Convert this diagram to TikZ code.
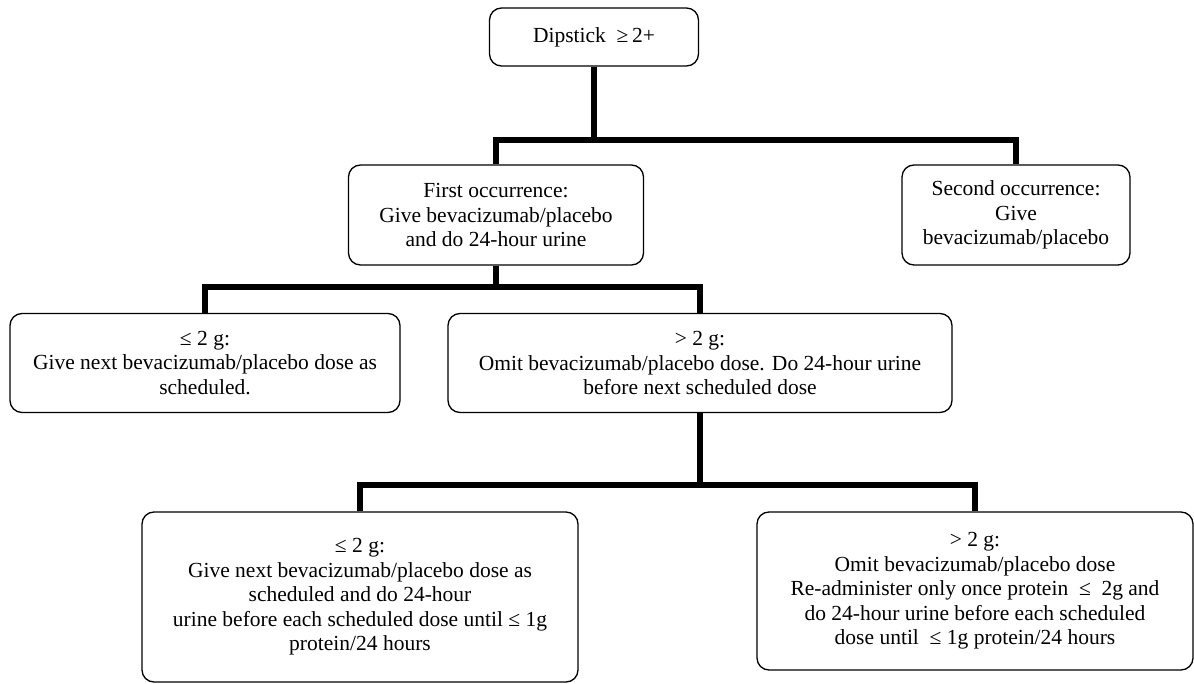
\documentclass[tikz,border=0pt]{standalone}
\usepackage{fontspec}
\setmainfont{Liberation Serif}
\usetikzlibrary{positioning}

\begin{document}
\begin{tikzpicture}[x=1pt,y=-1pt,
    box/.style={draw,rounded corners=12pt,line width=1.3pt,align=center,
        font=\fontsize{21.5}{24.5}\selectfont,inner sep=2pt},
    link/.style={line width=6.5pt,line cap=butt,line join=miter}]
    \useasboundingbox (0,0) rectangle (1194,684);
    % boxes
    \node[box,minimum width=209pt,minimum height=58pt] (dip) at (594,37) {Dipstick\enspace≥\,2+};
    \node[box,minimum width=295pt,minimum height=100pt] (first) at (496,215)
        {First occurrence:\\Give bevacizumab/placebo\\and do 24-hour urine};
    \node[box,minimum width=228pt,minimum height=100pt] (second) at (1016,215)
        {Second occurrence:\\Give\\bevacizumab/placebo};
    \node[box,minimum width=390pt,minimum height=99pt] (le) at (205,363)
        {≤ 2 g:\\Give next bevacizumab/placebo dose as\\scheduled.};
    \node[box,minimum width=504pt,minimum height=99pt] (gt) at (700,363)
        {> 2 g:\\Omit bevacizumab/placebo dose. Do 24-hour urine\\before next scheduled dose};
    \node[box,minimum width=436pt,minimum height=170pt] (lelow) at (360,597)
        {≤ 2 g:\\Give next bevacizumab/placebo dose as\\scheduled and do 24-hour\\urine before each scheduled dose until ≤ 1g\\protein/24 hours};
    \node[box,minimum width=436pt,minimum height=158pt] (gtlow) at (975,591)
        {> 2 g:\\Omit bevacizumab/placebo dose\\Re-administer only once protein\ \ ≤\ \ 2g and\\do 24-hour urine before each scheduled\\dose until\ \ ≤ 1g protein/24 hours};
    % branch points
    \coordinate (b1) at (594,140);
    \coordinate (b2) at (496,287);
    \coordinate (b3) at (700,485);
    % connectors
    \draw[link] (dip.south) -- (b1);
    \draw[link] (first.north) |- (b1) -| (second.north);
    \draw[link] (first.south) -- (b2);
    \draw[link] (le.north) |- (b2) -| (gt.north);
    \draw[link] (gt.south) -- (b3);
    \draw[link] (lelow.north) |- (b3) -| (gtlow.north);
\end{tikzpicture}
\end{document}
